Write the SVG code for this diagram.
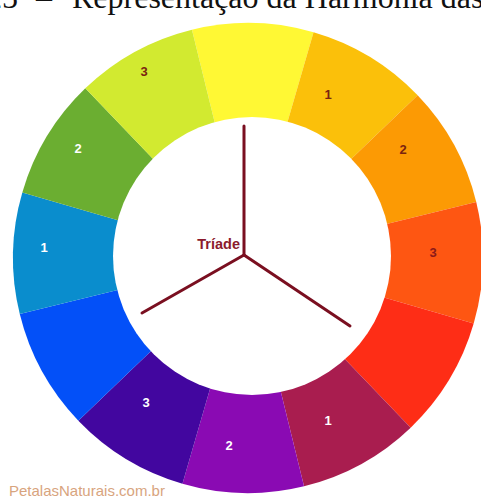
<svg xmlns="http://www.w3.org/2000/svg" width="481" height="498" viewBox="0 0 481 498">
  <style>
    .title { font-family: "Liberation Serif", "Times New Roman", serif; font-size: 32px; fill: #111; }
    .lbl { font-family: "Liberation Sans", Arial, sans-serif; font-size: 13px; font-weight: bold; text-anchor: middle; dominant-baseline: central; }
    .lw { fill: #ffffff; }
    .ld { fill: #7a2410; }
    .link { stroke: #7a0f20; stroke-width: 3; stroke-linecap: round; fill: none; }
    .triade { font-family: "Liberation Sans", Arial, sans-serif; font-size: 14.5px; font-weight: bold; fill: #8b1a2c; text-anchor: end; }
    .wm { font-family: "Liberation Sans", Arial, sans-serif; font-size: 15px; fill: #d8a47e; }
  </style>
  <rect width="481" height="498" fill="#ffffff"/>
  <text class="title" y="7.5"><tspan x="-14">25</tspan><tspan x="36">–</tspan><tspan x="72">Representação da Harmonia das</tspan></text>

  <g id="wheel" transform="rotate(1.2 248 258)">
    <g id="seg-yellow"><path d="M248 258 L187.2 31 A235 235 0 0 1 308.8 31 Z" fill="#fff834"/></g>
    <g id="seg-yellow-orange"><path d="M248 258 L308.8 31 A235 235 0 0 1 414.2 91.8 Z" fill="#fbc00a"/></g>
    <g id="seg-orange"><path d="M248 258 L414.2 91.8 A235 235 0 0 1 475 197.2 Z" fill="#fc9a04"/></g>
    <g id="seg-red-orange"><path d="M248 258 L475 197.2 A235 235 0 0 1 475 318.8 Z" fill="#fe5612"/></g>
    <g id="seg-red"><path d="M248 258 L475 318.8 A235 235 0 0 1 414.2 424.2 Z" fill="#fe2d16"/></g>
    <g id="seg-crimson"><path d="M248 258 L414.2 424.2 A235 235 0 0 1 308.8 485 Z" fill="#a91d4f"/></g>
    <g id="seg-violet"><path d="M248 258 L308.8 485 A235 235 0 0 1 187.2 485 Z" fill="#8a0ab3"/></g>
    <g id="seg-indigo"><path d="M248 258 L187.2 485 A235 235 0 0 1 81.8 424.2 Z" fill="#42069f"/></g>
    <g id="seg-blue"><path d="M248 258 L81.8 424.2 A235 235 0 0 1 21 318.8 Z" fill="#0350f8"/></g>
    <g id="seg-cyan"><path d="M248 258 L21 318.8 A235 235 0 0 1 21 197.2 Z" fill="#0a8dcd"/></g>
    <g id="seg-green"><path d="M248 258 L21 197.2 A235 235 0 0 1 81.8 91.8 Z" fill="#6bae31"/></g>
    <g id="seg-yellow-green"><path d="M248 258 L81.8 91.8 A235 235 0 0 1 187.2 31 Z" fill="#d2ea30"/></g>
  </g>
  <circle id="center" cx="252" cy="256" r="139" fill="#ffffff"/>

  <g id="labels">
    <text class="lbl ld" x="144" y="71">3</text>
    <text class="lbl lw" x="78" y="148">2</text>
    <text class="lbl lw" x="44" y="247">1</text>
    <text class="lbl lw" x="146" y="402">3</text>
    <text class="lbl lw" x="229" y="445">2</text>
    <text class="lbl lw" x="328" y="420">1</text>
    <text class="lbl ld" x="328" y="94">1</text>
    <text class="lbl ld" x="403" y="149">2</text>
    <text class="lbl" x="433" y="252" fill="#8b1a1a">3</text>
  </g>

  <g id="connectors">
    <line class="link" x1="244" y1="255" x2="244" y2="126"/>
    <line class="link" x1="244" y1="255" x2="142" y2="313"/>
    <line class="link" x1="244" y1="255" x2="350" y2="326"/>
  </g>

  <g id="node-triade">
    <text class="triade" x="240" y="249">Tríade</text>
  </g>

  <text class="wm" x="9" y="496">PetalasNaturais.com.br</text>
</svg>
